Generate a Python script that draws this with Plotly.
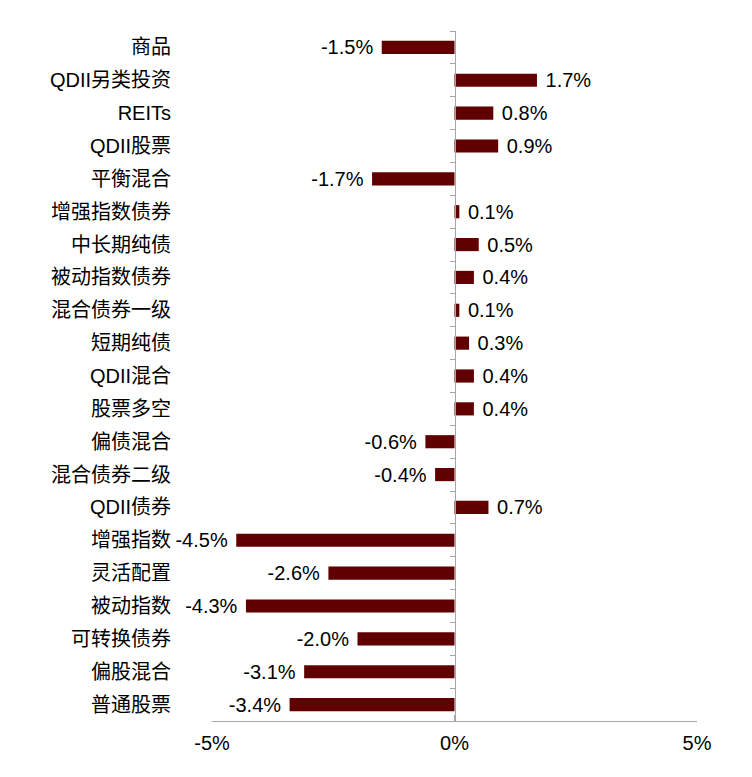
import plotly.graph_objects as go

categories = ["商品", "QDII另类投资", "REITs", "QDII股票", "平衡混合", "增强指数债券",
              "中长期纯债", "被动指数债券", "混合债券一级", "短期纯债", "QDII混合", "股票多空",
              "偏债混合", "混合债券二级", "QDII债券", "增强指数", "灵活配置", "被动指数",
              "可转换债券", "偏股混合", "普通股票"]
values = [-1.5, 1.7, 0.8, 0.9, -1.7, 0.1, 0.5, 0.4, 0.1, 0.3, 0.4, 0.4,
          -0.6, -0.4, 0.7, -4.5, -2.6, -4.3, -2.0, -3.1, -3.4]
x_ticks = [-5, 0, 5]
x_ticktext = ["-5%", "0%", "5%"]

texts = [(" %.1f%%" % v) if v >= 0 else ("%.1f%% " % v) for v in values]

FONT = "Liberation Sans, Arial, Noto Sans CJK SC, sans-serif"
BAR = "#600000"
AXIS = "#A6A6A6"
n = len(categories)
FS = 20

fig = go.Figure()
fig.add_trace(go.Bar(
    x=values, y=categories, orientation="h",
    marker=dict(color=BAR, line=dict(width=0)),
    text=texts, textposition="outside", cliponaxis=False, constraintext="none",
    textfont=dict(size=FS, color="black", family=FONT),
    hoverinfo="skip", width=0.4,
))
fig.add_trace(go.Scatter(
    x=[0] * n, y=categories, yaxis="y2", mode="markers",
    marker=dict(opacity=0), hoverinfo="skip", showlegend=False,
))

fig.update_layout(
    width=752, height=777,
    margin=dict(l=204, r=63, t=23, b=64),
    plot_bgcolor="white", paper_bgcolor="white",
    showlegend=False,
    font=dict(family=FONT, size=FS, color="black"),
    xaxis=dict(range=[-5, 5], tickvals=x_ticks, ticktext=x_ticktext,
               showgrid=False, zeroline=False, showline=True, linecolor=AXIS, linewidth=1,
               ticks="inside", ticklen=6, tickcolor=AXIS, tickwidth=1,
               ticklabelstandoff=4,
               tickfont=dict(size=FS, family=FONT), fixedrange=True),
    yaxis=dict(type="category", categoryorder="array", categoryarray=categories,
               range=[n - 0.5, -0.5], showgrid=False, zeroline=False, showline=False,
               ticks="", ticklabelstandoff=40,
               tickfont=dict(size=FS, family=FONT)),
    yaxis2=dict(type="category", categoryorder="array", categoryarray=categories,
                range=[n - 0.5, -0.5], overlaying="y", anchor="free", position=0.5,
                side="left", showgrid=False, zeroline=False, showline=True,
                linecolor=AXIS, linewidth=1, ticks="outside", ticklen=5,
                tickcolor=AXIS, tickson="boundaries", showticklabels=False),
)

fig.write_html("out.html")
